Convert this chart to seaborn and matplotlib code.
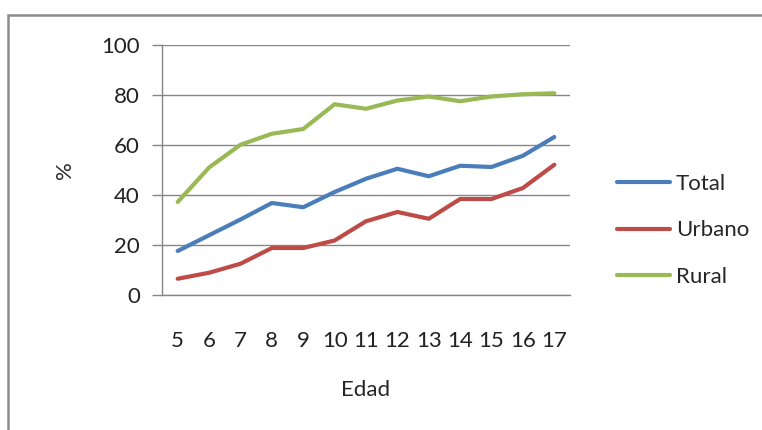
import matplotlib
matplotlib.use("Agg")
import matplotlib.pyplot as plt
from matplotlib.patches import Rectangle
import seaborn as sns
import pandas as pd

edad = [5, 6, 7, 8, 9, 10, 11, 12, 13, 14, 15, 16, 17]
total = [17.6, 23.9, 30.2, 36.8, 35.1, 41.2, 46.5, 50.5, 47.5, 51.7, 51.2, 55.7, 63.2]
urbano = [6.5, 8.9, 12.5, 18.8, 18.8, 21.8, 29.5, 33.2, 30.5, 38.4, 38.4, 42.8, 52.1]
rural = [37.2, 51.0, 60.1, 64.5, 66.4, 76.3, 74.5, 77.8, 79.4, 77.5, 79.4, 80.3, 80.7]
series = ["Total", "Urbano", "Rural"]
colors = ["#4A7EBB", "#BE4B48", "#98B954"]
yticks = [0, 20, 40, 60, 80, 100]

df = pd.DataFrame({
    "Edad": edad * 3,
    "valor": total + urbano + rural,
    "serie": [s for s in series for _ in edad],
})

sns.set_theme(style="white")
plt.rcParams["font.family"] = ["Lato", "DejaVu Sans"]
FS = 16

fig = plt.figure(figsize=(7.62, 4.30), dpi=100)
W, H = 762, 430
ax = fig.add_axes([162 / W, 1 - 295 / H, (570 - 162) / W, (295 - 45) / H])

# chart frame
fig.patches.append(Rectangle((8 / W, -0.1), 1.0, 1 - 15 / H + 0.1,
                             transform=fig.transFigure, fill=False,
                             edgecolor="#8C8C8C", linewidth=1.8))

sns.lineplot(data=df, x="Edad", y="valor", hue="serie", hue_order=series,
             palette=colors, linewidth=3.0, ax=ax, legend=False,
             solid_capstyle="round", solid_joinstyle="round")

ax.set_xlim(4.5, 17.5)
ax.set_ylim(0, 100)
ax.set_xticks(edad)
ax.set_xticklabels([str(e) for e in edad])
ax.set_yticks(yticks)
ax.yaxis.grid(True, color="#868686", linewidth=1.0)
ax.set_axisbelow(True)
for side in ["top", "right"]:
    ax.spines[side].set_visible(False)
for side in ["left", "bottom"]:
    ax.spines[side].set_color("#868686")
    ax.spines[side].set_linewidth(1.0)
ax.tick_params(axis="y", length=7, color="#868686", width=1.0, labelsize=FS,
               pad=9, left=True)
ax.tick_params(axis="x", length=0, labelsize=FS, pad=26)
ax.set_xlabel("Edad", fontsize=FS, labelpad=21)
ax.set_ylabel("%", fontsize=FS, labelpad=19)
for lab in ax.get_xticklabels() + ax.get_yticklabels():
    lab.set_color("#222222")

handles = [plt.Line2D([], [], color=c, linewidth=3.0, solid_capstyle="round")
           for c in colors]
fig.legend(handles, series, loc="upper left",
           bbox_to_anchor=(606 / W, 1 - 163 / H), frameon=False,
           fontsize=FS, handlelength=2.4, handletextpad=0.25,
           labelspacing=1.18, borderpad=0)

fig.savefig("out.png", dpi=100)
